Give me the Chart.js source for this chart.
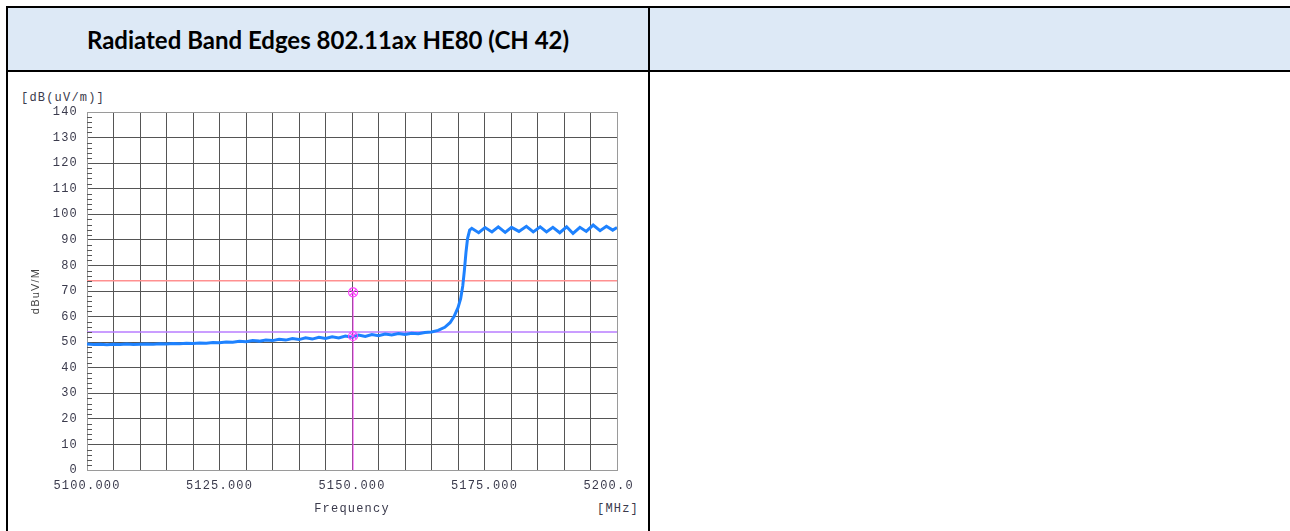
<!DOCTYPE html>
<html>
<head>
<meta charset="utf-8">
<script src="https://cdn.jsdelivr.net/npm/chart.js@4.4.1/dist/chart.umd.min.js"></script>
<style>
  html, body { margin: 0; padding: 0; background: #fff; }
  #page { position: relative; width: 1290px; height: 531px; overflow: hidden; background: #fff; }
  .rule { position: absolute; background: #000; }
  .head { position: absolute; top: 8px; height: 62px; background: #dde9f6; }
  #title {
    display: flex; align-items: center; justify-content: center;
    font: bold 24px Lato, "Open Sans", sans-serif; color: #000;
  }
  .mono {
    position: absolute; font: 12px "Liberation Mono", "DejaVu Sans Mono", monospace;
    letter-spacing: 1.2px; color: #3a3a4c; white-space: nowrap; line-height: 14px;
  }
  #plot { position: absolute; left: 8px; top: 72px; width: 626px; height: 459px; }
</style>
</head>
<body>
<div id="page">
  <div class="head" id="title" style="left:8px; width:640px;">Radiated Band Edges 802.11ax HE80 (CH 42)</div>
  <div class="head" style="left:650px; width:640px;"></div>
  <div class="rule" style="left:6px; top:6px; width:1284px; height:2px;"></div>
  <div class="rule" style="left:6px; top:70px; width:1284px; height:2px;"></div>
  <div class="rule" style="left:6px; top:6px; width:2px; height:525px;"></div>
  <div class="rule" style="left:648px; top:6px; width:2px; height:525px;"></div>
  <div class="mono" style="left:21px; top:91px;">[dB(uV/m)]</div>
  <div class="mono" style="left:597px; top:502px;">[MHz]</div>
  <div id="plot"><canvas id="chart"></canvas></div>
</div>
<script>
(function () {
  'use strict';

  var FREQS = [
    5100, 5101.25, 5102.5, 5103.75, 5105, 5106.25, 5107.5, 5108.75,
    5110, 5111.25, 5112.5, 5113.75, 5115, 5116.25, 5117.5, 5118.75,
    5120, 5121.25, 5122.5, 5123.75, 5125, 5126.25, 5127.5, 5128.75,
    5130, 5131.25, 5132.5, 5133.75, 5135, 5136.25, 5137.5, 5138.75,
    5140, 5141.25, 5142.5, 5143.75, 5145, 5146.25, 5147.5, 5148.75,
    5150, 5151.25, 5152.5, 5153.75, 5155, 5156.25, 5157.5, 5158.75,
    5160, 5161.25, 5162.5, 5163.75, 5165, 5166.25, 5167.5, 5168.5,
    5169.25, 5170, 5170.5, 5170.9, 5171.2, 5171.5, 5171.8, 5172.2,
    5172.6, 5173.9, 5175.1, 5176.4, 5177.6, 5178.9, 5180.1, 5181.5,
    5182.9, 5184.2, 5185.5, 5186.7, 5187.9, 5189.2, 5190.5, 5191.7,
    5193.0, 5194.2, 5195.5, 5196.8, 5198.0, 5199.2, 5200
  ];
  var LEVELS = [
    49.3, 49.1, 49.2, 49.0, 49.2, 49.1, 49.3, 49.1,
    49.2, 49.3, 49.2, 49.4, 49.3, 49.5, 49.4, 49.6,
    49.5, 49.7, 49.6, 49.9, 49.8, 50.1, 50.0, 50.3,
    50.2, 50.6, 50.4, 50.8, 50.6, 51.1, 50.8, 51.4,
    51.0, 51.7, 51.2, 51.9, 51.4, 52.1, 51.6, 52.4,
    51.9, 52.8, 52.2, 53.0, 52.5, 53.2, 52.8, 53.4,
    53.0, 53.5, 53.3, 53.8, 54.0, 54.6, 55.8, 57.6,
    60.0, 63.5, 67.0, 72.0, 78.0, 85.0, 90.5, 93.8,
    94.5, 92.8, 94.8, 93.1, 95.1, 92.9, 94.9, 93.3,
    95.3, 93.1, 95.1, 93.1, 94.9, 92.8, 95.1, 92.5,
    94.9, 93.3, 95.8, 93.6, 95.3, 93.8, 94.8
  ];
  var LIMIT_PEAK = 74;
  var LIMIT_AVG = 54;
  var MARKER_FREQ = 5150.2;
  var MARKER_LEVELS = [69.5, 52.4];
  var X_LABEL_VALUES = [5100, 5125, 5150, 5175, 5200];
  var X_LABEL_TEXTS = ['5100.000', '5125.000', '5150.000', '5175.000', '5200.0  '];

  var MONO = '"Liberation Mono", "DejaVu Sans Mono", monospace';
  var TEXT = '#3a3a4c';

  function pairs(xs, ys) {
    return xs.map(function (x, i) { return { x: x, y: ys[i] }; });
  }

  function hline(level) {
    return [{ x: 5100, y: level }, { x: 5200, y: level }];
  }

  var markerPoints = MARKER_LEVELS.map(function (v) { return { x: MARKER_FREQ, y: v }; });

  function gridColor(ctx) {
    var v = ctx.tick && ctx.tick.value;
    var s = ctx.scale;
    return (v === s.min || v === s.max) ? '#9a9a9a' : '#555555';
  }

  var frameTweaks = {
    id: 'frameTweaks',
    beforeDraw: function (chart) {
      chart.ctx.letterSpacing = '1.2px';
    },
    afterDraw: function (chart) {
      var ctx = chart.ctx;
      var y = chart.scales.y;
      var left = chart.chartArea.left;
      ctx.save();
      ctx.strokeStyle = '#555';
      ctx.lineWidth = 1;
      ctx.beginPath();
      for (var v = 0; v <= 140; v += 2) {
        if (v % 10 === 0) continue;
        var py = Math.round(y.getPixelForValue(v)) + 0.5;
        ctx.moveTo(left, py);
        ctx.lineTo(left + 5, py);
      }
      ctx.stroke();
      ctx.restore();
    }
  };

  new Chart(document.getElementById('chart').getContext('2d'), {
    type: 'line',
    plugins: [frameTweaks],
    data: {
      datasets: [
        {
          label: 'markers',
          data: markerPoints,
          showLine: false,
          pointStyle: 'crossRot',
          pointRadius: 4.5,
          borderColor: '#ff40ff',
          borderWidth: 1.2,
          order: 0
        },
        {
          label: 'marker rings',
          data: markerPoints,
          showLine: false,
          pointStyle: 'circle',
          pointRadius: 4.5,
          backgroundColor: 'rgba(0,0,0,0)',
          borderColor: '#ff40ff',
          borderWidth: 1.2,
          order: 0
        },
        {
          label: 'trace',
          data: pairs(FREQS, LEVELS),
          borderColor: '#1e82ff',
          borderWidth: 3,
          pointRadius: 0,
          tension: 0,
          order: 1
        },
        {
          label: 'marker line',
          data: [{ x: MARKER_FREQ, y: 0 }, { x: MARKER_FREQ, y: MARKER_LEVELS[0] }],
          borderColor: '#ff40ff',
          borderWidth: 1,
          pointRadius: 0,
          order: 2
        },
        {
          label: 'peak limit',
          data: hline(LIMIT_PEAK),
          borderColor: '#ff9090',
          borderWidth: 1.5,
          pointRadius: 0,
          order: 3
        },
        {
          label: 'avg limit',
          data: hline(LIMIT_AVG),
          borderColor: '#b87cff',
          borderWidth: 1.5,
          pointRadius: 0,
          order: 3
        }
      ]
    },
    options: {
      responsive: true,
      maintainAspectRatio: false,
      animation: false,
      layout: { padding: { top: 40, right: 17, bottom: 0, left: 0 } },
      plugins: {
        legend: { display: false },
        tooltip: { enabled: false }
      },
      scales: {
        x: {
          type: 'linear',
          min: 5100,
          max: 5200,
          border: { color: '#9a9a9a', width: 1 },
          grid: { color: gridColor, drawTicks: false, lineWidth: 1 },
          ticks: {
            stepSize: 5,
            autoSkip: false,
            maxRotation: 0,
            minRotation: 0,
            padding: 9,
            color: TEXT,
            font: { family: MONO, size: 12 },
            callback: function (value) {
              var i = X_LABEL_VALUES.indexOf(value);
              return i >= 0 ? X_LABEL_TEXTS[i] : '';
            }
          },
          title: {
            display: true,
            text: 'Frequency',
            color: TEXT,
            font: { family: MONO, size: 12 },
            padding: { top: 0, bottom: 15 }
          },
          afterFit: function (scale) {
            scale.height = 61;
            scale.paddingLeft = 0;
            scale.paddingRight = 0;
          }
        },
        y: {
          min: 0,
          max: 140,
          border: { color: '#9a9a9a', width: 1 },
          grid: { color: gridColor, drawTicks: false, lineWidth: 1 },
          ticks: {
            stepSize: 10,
            padding: 9,
            color: TEXT,
            font: { family: MONO, size: 12 }
          },
          title: {
            display: true,
            text: 'dBuV/M',
            color: '#444',
            font: { family: '"Liberation Sans", Arial, sans-serif', size: 11 },
            padding: { top: 21, bottom: 0 }
          },
          afterFit: function (scale) {
            scale.width = 79;
          }
        }
      }
    }
  });
})();
</script>
</body>
</html>
